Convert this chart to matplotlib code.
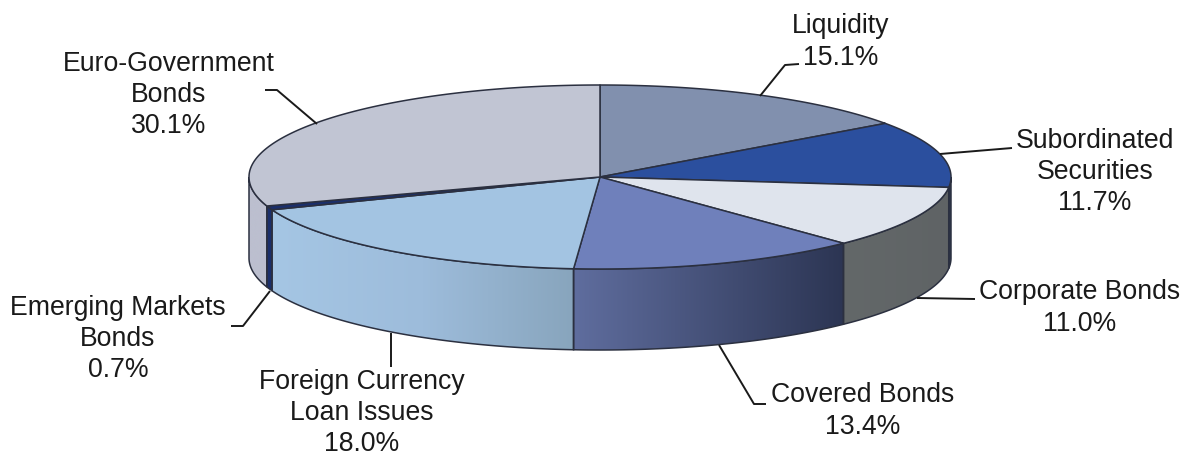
import matplotlib
matplotlib.use('Agg')
import matplotlib.colors as mcolors
import matplotlib.pyplot as plt
import numpy as np
from matplotlib.patches import Polygon

plt.rcParams['font.family'] = ['Liberation Sans', 'DejaVu Sans']

# slices clockwise from 12 o'clock
labels = ['Liquidity', 'Subordinated\nSecurities', 'Corporate Bonds', 'Covered Bonds',
          'Foreign Currency\nLoan Issues', 'Emerging Markets\nBonds', 'Euro-Government\nBonds']
shares = [15.1, 11.7, 11.0, 13.4, 18.0, 0.7, 30.1]
top_colors = ['#8190ae', '#2b4f9e', '#dfe4ed', '#6f80bb', '#a3c4e2', '#1b2f6b', '#c1c5d3']
side_colors = [('#8190ae', '#8190ae'), ('#2e3a50', '#2e3a50'), ('#636869', '#5f6365'),
               ('#5f6d9e', '#2c3553'), ('#a5c6e4', '#9dbcdb', '#88a5bd'), ('#1b2f6b', '#1b2f6b'),
               ('#bcbfcf', '#bcbfcf')]

label_xy = [(841, 42), (1095, 172), (1080, 308), (863, 411), (362, 413), (118, 339), (169, 95)]
leaders = [
    [(760, 96), (785, 65), (799, 64)],
    [(940, 154), (1000, 149), (1012, 148)],
    [(917, 298), (975, 299)],
    [(719, 345), (754, 404), (766, 404)],
    [(391, 333), (391, 367)],
    [(270, 291), (243, 326), (231, 326)],
    [(317, 124), (277, 90), (265, 90)],
]

CX, CY = 600, 177
RX, RY = 351, 92
DEPTH = 81
EDGE = '#2b3040'


def ellipse_pts(t0, t1, dy=0):
    # t is the clockwise angle from the top, degrees
    t = np.radians(np.linspace(t0, t1, max(int(abs(t1 - t0)) * 3, 2)))
    return np.column_stack([CX + RX * np.sin(t), CY - RY * np.cos(t) + dy])


fig = plt.figure(figsize=(11.9, 4.58), dpi=100)
ax = fig.add_axes([0, 0, 1, 1])
ax.axis('off')

edges = np.concatenate([[0], np.cumsum(shares)]) / sum(shares) * 360

# side wall, only the front half of the ellipse shows
for i, stops in enumerate(side_colors):
    t0, t1 = max(edges[i], 90), min(edges[i + 1], 270)
    if t1 <= t0:
        continue
    pts = np.vstack([ellipse_pts(t0, t1), ellipse_pts(t1, t0, DEPTH)])
    poly = Polygon(pts, closed=True, fc='none', ec='none', zorder=2)
    ax.add_patch(poly)
    x0, x1 = pts[:, 0].min(), pts[:, 0].max()
    # colours run left to right across the wall
    cmap = mcolors.LinearSegmentedColormap.from_list(f'side{i}', stops)
    im = ax.imshow(np.linspace(0, 1, 256)[None, :], cmap=cmap, aspect='auto',
                   extent=(x0, x1, CY + RY + DEPTH + 5, CY - 5), zorder=2)
    im.set_clip_path(poly)
    ax.add_patch(Polygon(pts, closed=True, fc='none', ec=EDGE, lw=1.1, zorder=3))

ax.set_xlim(0, 1190)
ax.set_ylim(458, 0)

# top face
for i, color in enumerate(top_colors):
    pts = np.vstack([[CX, CY], ellipse_pts(edges[i], edges[i + 1])])
    ax.add_patch(Polygon(pts, closed=True, fc=color, ec=EDGE, lw=1.1, joinstyle='round', zorder=4))

for pts in leaders:
    xs, ys = zip(*pts)
    ax.plot(xs, ys, color='#1a1a1a', lw=1.4, zorder=5, solid_capstyle='butt')

for text, share, (x, y) in zip(labels, shares, label_xy):
    ax.text(x, y, f'{text}\n{share:.1f}%', ha='center', va='center', fontsize=19.2,
            color='#1a1a1a', linespacing=1.27, zorder=6)

fig.savefig('out.png', dpi=100, facecolor='white')
